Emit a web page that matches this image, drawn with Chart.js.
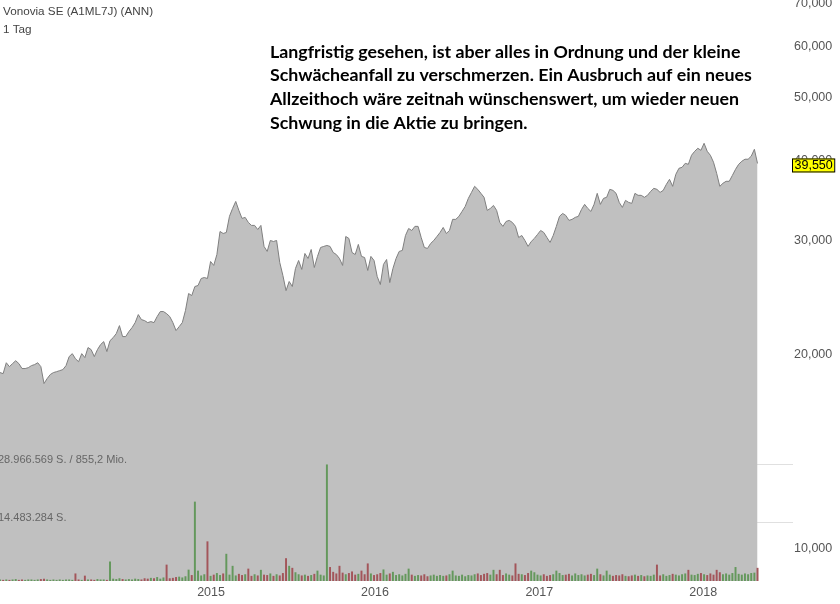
<!DOCTYPE html>
<html>
<head>
<meta charset="utf-8">
<script src="https://cdn.jsdelivr.net/npm/chart.js@4.4.0/dist/chart.umd.min.js"></script>
<style>
  body { margin: 0; background: #fff; }
  #wrap { position: relative; width: 840px; height: 604px; }
</style>
</head>
<body>
<div id="wrap"><canvas id="chart"></canvas></div>
<script>
'use strict'

// weekly closes starting at firstWeek, one value per week
let firstWeek = '2013-09-18';
let axisEnd = '2018-07-20';
let yearLabels = ['2015', '2016', '2017', '2018'];
let priceTicks = [10000, 20000, 30000, 40000, 50000, 60000, 70000];

let weeklyClose = [
  18760, 18690, 19430, 19160, 19370, 19570, 19370, 19030, 19030, 19090,
  19230, 19300, 19430, 19160, 18040, 18360, 18630, 18760, 18820, 18890,
  18960, 19230, 19860, 20070, 19710, 19500, 20070, 19790, 20510, 20360,
  19860, 20360, 20730, 20950, 20220, 21020, 21250, 21560, 22180, 21330,
  21330, 21710, 22020, 22420, 23070, 22660, 22580, 22420, 22500, 22420,
  22910, 23320, 23320, 23150, 22910, 22420, 21790, 22100, 22420, 23400,
  24870, 24690, 25500, 25590, 26240, 26330, 26240, 27880, 27490, 28580,
  31030, 30810, 30920, 32750, 33690, 34540, 33450, 32510, 32630, 32050,
  31710, 31710, 31250, 31710, 29420, 28900, 30050, 29940, 30050, 27780,
  26520, 25130, 25960, 25500, 27190, 27980, 27100, 28690, 28180, 29100,
  27290, 28390, 29310, 29420, 29520, 29420, 28790, 28580, 28180, 27490,
  30480, 30270, 28790, 28580, 29630, 28390, 28280, 27000, 28390, 27980,
  26430, 25680, 27590, 28080, 25860, 27190, 28180, 28900, 29000, 30590,
  31360, 31140, 31600, 31600, 30370, 29310, 29210, 29730, 30050, 30480,
  30920, 31480, 30810, 31140, 32400, 32400, 32750, 33330, 33930, 34920,
  35670, 36450, 36060, 35550, 35050, 33450, 33690, 34050, 33450, 32050,
  31600, 32160, 32280, 32050, 31600, 30370, 30590, 30050, 29420, 29940,
  30270, 30700, 31140, 30920, 30370, 29840, 30590, 31600, 32750, 33090,
  32860, 32280, 32400, 32630, 32750, 33570, 34180, 33690, 33330, 34180,
  35550, 34180, 34920, 35050, 36060, 35930, 35550, 34420, 33810, 34670,
  34420, 34300, 35550, 35300, 35300, 35050, 35300, 35800, 36190, 36060,
  35670, 35930, 36710, 37370, 36450, 38040, 38870, 39010, 39570, 39430,
  40720, 41300, 41750, 41450, 42500, 41300, 40720, 39720, 38180, 36450,
  36850, 37110, 37110, 37900, 38730, 39430, 39860, 40150, 40150, 40590,
  41600, 39550
];

// volume in million shares, same weeks
let weeklyVolumeMio = [
  0.3, 0.2, 0.3, 0.2, 0.3, 0.4, 0.2, 0.3, 0.2, 0.3,
  0.3, 0.2, 0.3, 0.4, 0.5, 0.3, 0.2, 0.3, 0.2, 0.3,
  0.2, 0.3, 0.3, 0.2, 1.8, 0.3, 0.2, 1.25, 0.3, 0.3,
  0.2, 0.4, 0.3, 0.3, 0.2, 4.75, 0.5, 0.4, 0.6, 0.4,
  0.3, 0.4, 0.3, 0.5, 0.4, 0.3, 0.6, 0.5, 0.7, 0.6,
  0.9, 0.5, 0.8, 4.0, 0.6, 0.7, 0.9, 1.0, 0.8, 1.1,
  2.75, 1.4, 19.7, 2.5, 1.3, 1.6, 9.8, 1.2, 1.5, 1.9,
  1.4, 1.8, 6.7, 1.5, 3.7, 1.3, 1.7, 1.4, 1.6, 3.0,
  1.2, 1.6, 1.3, 2.7, 1.5, 1.4, 1.8, 1.2, 1.6, 1.3,
  1.9, 5.6, 3.7, 3.2, 2.1, 1.6, 1.3, 1.5, 1.2, 1.4,
  1.7, 2.5, 1.5, 1.3, 28.97, 3.4, 2.2, 1.8, 3.7, 2.0,
  1.6, 1.9, 2.3, 1.5, 1.7, 2.5, 1.6, 4.3, 1.8, 1.4,
  1.6, 1.9, 2.8, 1.5, 1.8, 2.2, 1.4, 1.6, 1.3, 1.7,
  3.0, 1.5, 1.2, 1.4, 1.3, 1.6, 1.1, 1.3, 1.5, 1.2,
  1.4, 1.2, 1.3, 1.6, 2.5, 1.3, 1.2, 1.5, 1.1, 1.4,
  1.3, 1.6, 1.8, 1.4, 1.7, 1.9, 1.5, 2.7, 1.6, 2.7,
  1.4, 1.8, 1.5, 1.3, 4.3, 1.7, 1.6, 1.4, 1.9, 2.5,
  2.1, 1.5, 1.3, 1.6, 1.2, 1.4, 1.6, 2.5, 1.9, 1.4,
  1.5, 1.7, 1.3, 1.8, 1.4, 1.6, 1.3, 1.5, 1.7, 1.4,
  3.0, 1.6, 1.3, 2.5, 1.5, 1.2, 1.4, 1.3, 1.6, 1.2,
  1.1, 1.3, 1.5, 1.2, 1.4, 1.1, 1.3, 1.2, 1.5, 4.0,
  1.3, 1.6, 1.2, 1.4, 1.7, 1.5, 1.3, 1.6, 1.8, 2.7,
  1.5, 1.4, 1.7, 1.9, 1.6, 1.4, 1.8, 1.5, 2.7, 2.1,
  1.6, 1.8, 1.5, 1.9, 3.4, 1.7, 1.5, 1.8, 1.6, 1.9,
  2.0, 3.2
];

let volumeLines = [14483284, 28966569];
let volumeLineLabels = ['14.483.284 S.', '28.966.569 S. / 855,2 Mio.'];
let chartTitle = ['Vonovia SE (A1ML7J) (ANN)', '1 Tag'];
let noteLines = [
  'Langfristig gesehen, ist aber alles in Ordnung und der kleine',
  'Schwächeanfall zu verschmerzen. Ein Ausbruch auf ein neues',
  'Allzeithoch wäre zeitnah wünschenswert, um wieder neuen',
  'Schwung in die Aktie zu bringen.'
];
let lastPriceLabel = '39,550';

let canvasElem = document.getElementById('chart');
let baseFont = 'Arial, "Liberation Sans", sans-serif';

function weeksFrom(dateStr) {
  let start = Date.parse(firstWeek + 'T00:00:00Z');
  return (Date.parse(dateStr + 'T00:00:00Z') - start) / (7 * 86400000);
}

function noPadding(s) {
  s.paddingTop = 0;
  s.paddingBottom = 0;
  s.paddingLeft = 0;
  s.paddingRight = 0;
}

function renderChart() {
  let pricePoints = [];
  let volumePoints = [];
  let volumeColors = [];

  for (let i = 0; i < weeklyClose.length; i++) {
    pricePoints.push({ x: i, y: weeklyClose[i] });
    volumePoints.push({ x: i, y: weeklyVolumeMio[i] * 1000000 });
    let up = i === 0 || weeklyClose[i] >= weeklyClose[i - 1];
    volumeColors.push(up ? '#64985c' : '#a3555a');
  }

  let yearTicks = yearLabels.map(function (y) {
    return { value: weeksFrom(y + '-01-01'), label: y };
  });

  let textPlugin = {
    id: 'texts',
    afterDraw(chart) {
      let ctx = chart.ctx;
      let area = chart.chartArea;
      ctx.save();

      // title
      ctx.fillStyle = '#444';
      ctx.font = '11.7px ' + baseFont;
      ctx.textAlign = 'left';
      ctx.textBaseline = 'middle';
      ctx.fillText(chartTitle[0], 3, 12);
      ctx.fillText(chartTitle[1], 3, 30);

      // volume line labels
      let v = chart.scales.v;
      ctx.fillStyle = '#666';
      ctx.font = '11px ' + baseFont;
      ctx.textBaseline = 'alphabetic';
      for (let i = 0; i < volumeLines.length; i++) {
        ctx.fillText(volumeLineLabels[i], -2, v.getPixelForValue(volumeLines[i]) - 2);
      }

      // note
      ctx.fillStyle = '#000';
      ctx.font = 'bold 17.8px Lato, "Open Sans", sans-serif';
      ctx.textBaseline = 'middle';
      for (let i = 0; i < noteLines.length; i++) {
        ctx.fillText(noteLines[i], 270, 52 + i * 23.7);
      }

      // last price box
      let yScale = chart.scales.y;
      let py = yScale.getPixelForValue(weeklyClose[weeklyClose.length - 1]) + 2;
      ctx.font = '12.5px ' + baseFont;
      let w = ctx.measureText(lastPriceLabel).width + 4;
      let bx = area.right - 1;
      ctx.fillStyle = '#ffff00';
      ctx.fillRect(bx, py - 7, w, 14);
      ctx.strokeStyle = '#000';
      ctx.lineWidth = 1;
      ctx.strokeRect(bx + 0.5, py - 6.5, w, 13);
      ctx.fillStyle = '#000';
      ctx.textBaseline = 'middle';
      ctx.fillText(lastPriceLabel, bx + 2.5, py + 0.5);

      ctx.restore();
    }
  };

  let chartObj = {
    type: 'bar',
    data: {
      datasets: [{
        type: 'bar',
        label: 'Volumen',
        data: volumePoints,
        yAxisID: 'v',
        backgroundColor: volumeColors,
        barThickness: 1.3,
        order: 0
      },
      {
        type: 'line',
        label: 'Vonovia',
        data: pricePoints,
        yAxisID: 'y',
        borderColor: '#7f7f7f',
        borderWidth: 1,
        backgroundColor: '#c0c0c0',
        fill: 'start',
        pointRadius: 0,
        tension: 0,
        order: 1
      }]
    },
    options: {
      responsive: true,
      maintainAspectRatio: false,
      animation: false,
      layout: { padding: 0, autoPadding: false },
      plugins: {
        legend: { display: false },
        tooltip: { enabled: false }
      },
      scales: {
        x: {
          type: 'linear',
          offset: false,
          min: 0,
          max: weeksFrom(axisEnd),
          grid: { display: false, drawTicks: false },
          border: { display: false },
          afterBuildTicks: function (s) { s.ticks = yearTicks.map(function (t) { return { value: t.value }; }); },
          afterFit: function (s) { s.height = 23; noPadding(s); },
          ticks: {
            autoSkip: false,
            maxRotation: 0,
            padding: 4,
            color: '#555',
            font: { size: 12.5, family: baseFont },
            callback: function (value, index) { return yearTicks[index].label; }
          }
        },
        y: {
          type: 'logarithmic',
          position: 'right',
          min: 8920,
          max: 70850,
          grid: { display: false, drawTicks: false },
          border: { display: false },
          afterBuildTicks: function (s) { s.ticks = priceTicks.map(function (p) { return { value: p }; }); },
          afterFit: function (s) { s.width = 47; noPadding(s); },
          ticks: {
            autoSkip: false,
            padding: 1,
            color: '#555',
            font: { size: 12.5, family: baseFont },
            callback: function (value) { return Number(value).toLocaleString('en-US'); }
          }
        },
        v: {
          type: 'linear',
          position: 'left',
          min: 0,
          max: 144830000,
          z: 1,
          border: { display: false },
          grid: { color: 'rgba(0,0,0,0.12)', drawTicks: false },
          afterBuildTicks: function (s) { s.ticks = volumeLines.map(function (l) { return { value: l }; }); },
          afterFit: function (s) { s.width = 0; noPadding(s); },
          ticks: { display: false }
        }
      }
    },
    plugins: [textPlugin]
  };

  new Chart(canvasElem, chartObj);
}

renderChart();
</script>
</body>
</html>
